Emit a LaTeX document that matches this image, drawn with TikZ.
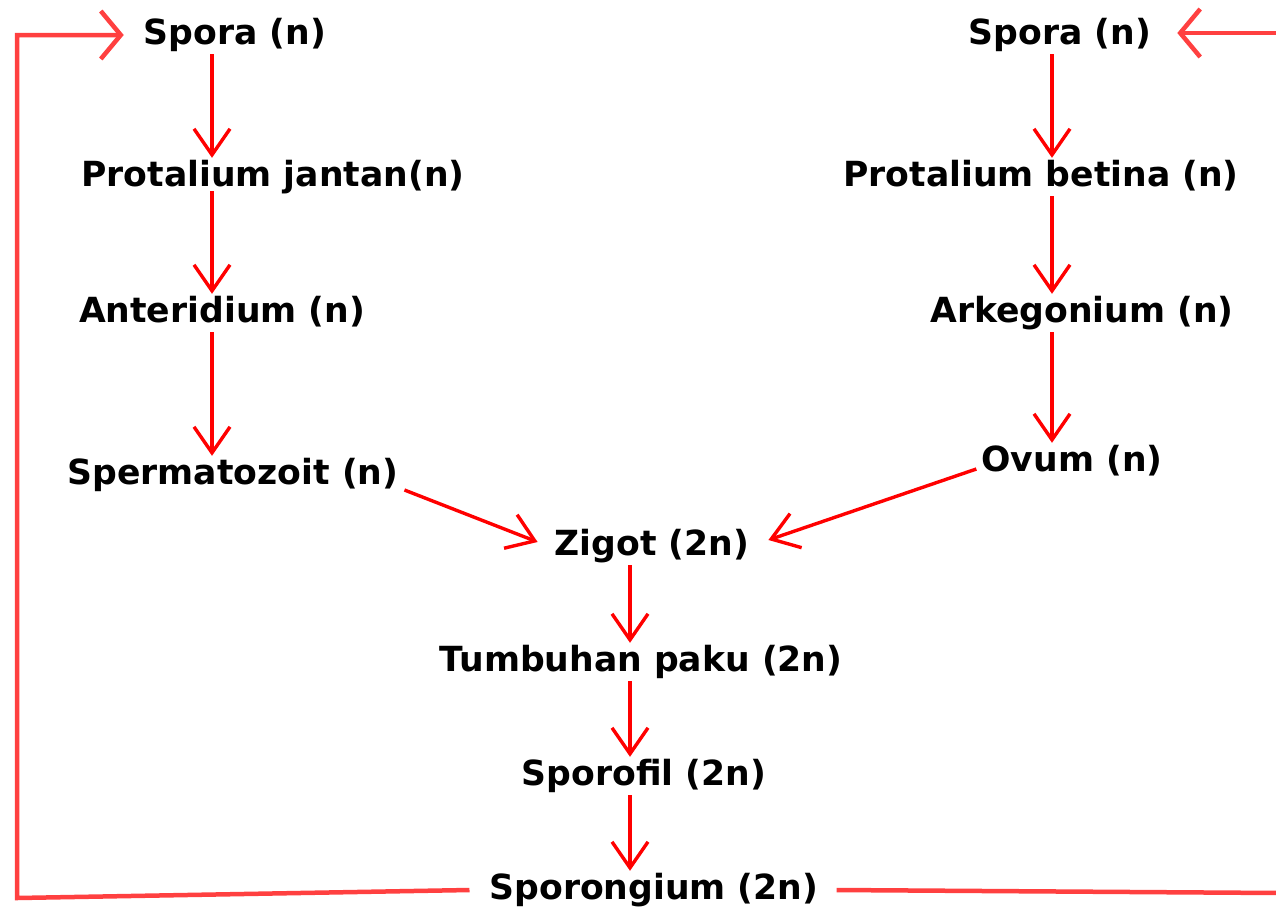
\documentclass[tikz,border=0pt]{standalone}
\usepackage{fontspec}
\setmainfont{DejaVu Sans}
\usetikzlibrary{arrows.meta}
\definecolor{loopred}{RGB}{255,64,64}
\begin{document}
\begin{tikzpicture}[x=1pt,y=-1pt,
  lbl/.style={font=\fontsize{34.6}{40}\selectfont\bfseries, text height=25pt,
    text depth=7pt, inner xsep=2pt, inner ysep=3pt},
  arr/.style={draw=red, line width=3.4pt, -{Straight Barb[length=26pt,width=36pt]}},
  cycleline/.style={draw=loopred, line width=4.5pt, line join=miter},
  cyclearr/.style={cycleline, -{Straight Barb[length=20pt,width=48pt]}}
]
\useasboundingbox (0,0) rectangle (1276,911);
\fill[white] (0,0) rectangle (1276,911);

% stages of the life cycle
\node[lbl] (spL) at (235,35)  {Spora (n)};
\node[lbl] (spR) at (1060,35) {Spora (n)};
\node[lbl] (pj)  at (273,177) {Protalium jantan(n)};
\node[lbl] (pb)  at (1041,177) {Protalium betina (n)};
\node[lbl] (an)  at (222,313) {Anteridium (n)};
\node[lbl] (ar)  at (1082,313) {Arkegonium (n)};
\node[lbl] (sz)  at (233,475) {Spermatozoit (n)};
\node[lbl] (ov)  at (1072,462) {Ovum (n)};
\node[lbl] (zg)  at (652,546) {Zigot (2n)};
\node[lbl] (tp)  at (641,662) {Tumbuhan paku (2n)};
\node[lbl] (sf)  at (644,776) {Sporofil (2n)};
\node[lbl] (so)  at (654,890) {Sporongium (2n)};

% columns for the vertical arrows
\coordinate (cL) at (212,0);
\coordinate (cR) at (1052,0);
\coordinate (cM) at (630,0);

% male branch
\draw[arr] (spL.south -| cL) -- (pj.north -| cL);
\draw[arr] ([yshift=5pt]pj.south -| cL) -- (an.north -| cL);
\draw[arr] (an.south -| cL) -- (sz.north -| cL);

% female branch
\draw[arr] (spR.south -| cR) -- (pb.north -| cR);
\draw[arr] (pb.south -| cR) -- (ar.north -| cR);
\draw[arr] (ar.south -| cR) -- (ov.north -| cR);

% fertilisation
\draw[arr] ([xshift=4pt,yshift=-15pt]sz.east) -- ([xshift=-15pt,yshift=4pt]zg.west);
\draw[arr] ([xshift=-3pt,yshift=-7pt]ov.west) -- ([xshift=17pt,yshift=6pt]zg.east);

% sporophyte
\draw[arr] (zg.south -| cM) -- (tp.north -| cM);
\draw[arr] (tp.south -| cM) -- (sf.north -| cM);
\draw[arr] (sf.south -| cM) -- (so.north -| cM);

% return to the spores
\coordinate (bl) at (17,898);
\coordinate (tl) at (17,35);
\coordinate (br) at (1280,893);
\coordinate (tr) at (1280,33);
\draw[cyclearr] ([xshift=-18pt]so.west) -- (bl) -- (tl) -- ([xshift=-18pt]spL.west);
\draw[cycleline] ([xshift=16pt]so.east) -- (br);
\draw[cyclearr] (tr) -- ([xshift=24pt,yshift=2pt]spR.east);
\end{tikzpicture}
\end{document}
